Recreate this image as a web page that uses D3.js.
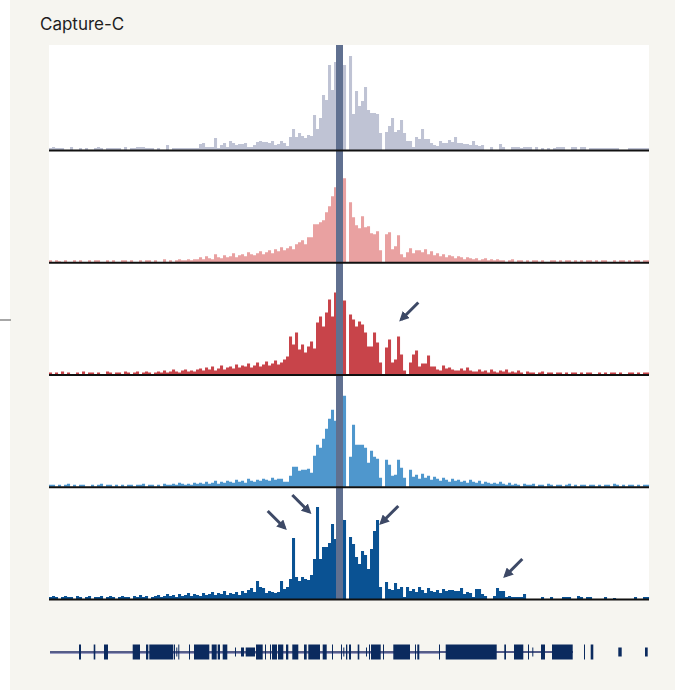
<!DOCTYPE html>
<html>
<head>
<meta charset="utf-8">
<script src="https://cdn.jsdelivr.net/npm/d3@7"></script>
<style>
  body { margin: 0; background: #fff; }
  svg { display: block; font-family: Inter, "Liberation Sans", Arial, sans-serif; }
</style>
</head>
<body>
<svg width="675" height="690"></svg>
<script>
// bins of 3 kb across a 600 kb window
const binSize = 3;

const trackGray = [
  2,3,2,2,2,0,0,3,0,0, 2,0,2,0,0,2,3,2,0,2, 2,2,2,2,0,3,0,2,2,3, 3,3,2,2,2,0,2,0,0,5,
  0,2,2,2,2,2,2,2,2,2, 6,7,3,3,3,12,2,5,7,3, 9,7,5,6,6,7,3,3,5,8, 9,8,8,7,9,5,6,9,7,4,
  13,21,13,17,14,12,15,14,35,21, 32,55,50,85,60,88,80,75,85,0, 94,36,59,44,49,63,40,37,37,36,
  17,0,18,24,32,18,20,30,17,9, 9,3,13,11,21,11,11,7,5,4, 9,7,7,10,8,13,7,7,6,6,
  5,9,5,4,5,0,0,3,0,0, 6,3,0,0,3,3,3,2,3,3, 3,0,3,0,2,0,2,0,2,3, 3,3,0,0,3,3,0,3,3,0,
  2,2,2,2,2,2,2,2,2,2, 0,0,0,2,2,2,2,2,2,2
];

const trackPink = [
  2,0,2,1,0,2,0,0,2,0, 2,0,0,2,0,2,2,0,0,2, 0,2,0,0,2,2,0,2,0,0, 2,0,2,2,0,2,0,0,3,0,
  2,0,2,3,2,2,3,2,3,3, 5,3,6,4,3,8,5,4,7,5, 6,9,5,7,8,6,10,8,7,9, 11,8,10,12,9,13,11,15,12,14,
  16,13,18,20,22,18,25,25,38,38, 40,42,50,56,66,75,70,60,84,0, 60,45,37,34,46,35,36,29,28,31,
  12,0,28,30,13,16,27,8,5,10, 14,9,12,12,10,13,8,11,7,9, 6,8,5,7,6,4,6,5,3,5,
  4,3,4,2,3,4,2,3,2,3, 2,2,0,2,3,0,2,2,0,2, 0,2,2,0,2,0,0,2,2,0, 2,0,2,2,0,2,0,2,0,2,
  2,0,2,0,2,2,0,0,2,0, 2,2,0,2,0,2,2,0,2,2
];

const trackRed = [
  2,0,2,0,3,0,2,0,0,2, 0,3,0,2,2,0,2,0,0,3, 2,0,2,2,0,3,2,0,2,3, 0,2,3,2,0,2,3,2,4,2,
  3,5,3,2,4,5,3,4,3,5, 6,4,7,5,8,4,6,9,5,7, 8,6,10,7,9,8,11,7,9,12, 8,10,13,9,11,14,10,12,15,18,
  38,30,42,25,30,22,28,33,26,52, 58,48,62,75,58,82,80,70,74,0, 60,55,48,53,50,42,28,28,42,32,
  12,0,27,35,12,15,38,20,4,0, 12,20,24,8,11,11,19,8,8,5, 4,9,6,7,5,4,4,6,4,7,
  4,3,3,5,3,4,2,5,3,2, 4,3,5,2,3,2,4,2,0,3, 2,2,0,2,3,0,2,2,0,2, 2,0,2,0,2,2,0,2,0,2,
  2,0,0,2,0,2,0,2,2,0, 2,0,0,2,2,0,2,0,2,2
];

const trackBlue = [
  2,2,0,2,0,2,3,0,2,0, 2,2,0,0,2,0,2,3,0,2, 2,0,2,0,2,0,2,2,0,2, 2,3,0,2,2,0,2,0,3,2,
  2,3,2,4,3,2,3,2,4,3, 4,3,5,3,4,6,3,5,4,6, 5,4,7,5,6,4,8,6,5,7, 6,8,7,6,9,7,8,8,5,5,
  11,20,20,16,17,17,18,14,31,42, 39,48,58,68,77,66,85,90,91,0, 30,62,42,42,42,39,24,36,30,28,
  9,0,27,22,11,12,27,19,9,0, 17,10,12,8,13,9,11,7,10,8, 6,9,7,5,8,6,7,5,6,4,
  7,5,4,6,3,5,4,3,4,3, 5,3,2,4,2,3,2,0,3,2, 2,3,0,2,2,0,3,2,0,2, 2,0,2,3,0,2,0,2,2,0,
  2,2,0,2,0,2,2,0,3,2, 0,2,0,2,2,0,2,0,2,2
];

const trackNavy = [
  2,3,2,0,2,3,2,2,0,3, 2,0,2,3,0,2,2,3,0,2, 3,2,0,2,3,2,2,0,3,2, 4,2,3,0,2,3,4,2,3,5,
  3,4,2,5,3,4,6,3,5,4, 3,6,4,5,7,4,6,5,8,4, 6,5,7,4,8,6,9,11,7,18, 12,11,6,8,7,6,7,18,10,12,
  20,61,22,18,22,20,19,24,40,92, 40,52,52,56,75,60,70,80,79,0, 62,55,42,35,48,44,30,50,68,79,
  12,0,17,10,9,16,10,12,2,12, 8,10,7,12,9,6,11,8,7,9, 6,10,8,9,9,8,8,11,5,7,
  6,2,10,10,5,3,0,0,3,11, 8,8,2,3,2,2,2,2,5,0, 0,0,0,0,2,0,0,2,0,0, 0,2,2,2,0,0,3,2,0,2,
  2,0,0,0,0,2,0,0,1,0, 0,0,0,0,0,2,0,0,2,2
];

const trackValues = [trackGray, trackPink, trackRed, trackBlue, trackNavy];
const trackColors = ["#bfc3d4", "#e9a1a1", "#c8444a", "#4f97cd", "#0a5293"];

const viewpoint = [287, 294];

const arrows = [
  { track: 2, pos: 349.3, value: 52, dir: 1 },
  { track: 4, pos: 238.7, value: 68, dir: -1 },
  { track: 4, pos: 263.3, value: 84, dir: -1 },
  { track: 4, pos: 329.3, value: 73, dir: 1 },
  { track: 4, pos: 453.3, value: 20, dir: 1 },
];

// gene models: [start, end, short?]
const transcript = [1, 524];
const transcriptAlt = [1, 391];
const exons = [
  [30, 32], [44.7, 46.3], [55, 59], [83.7, 91], [97, 99.3], [100.3, 124.3], [125, 126],
  [127.3, 128.3, 1], [129.3, 130.3], [140, 141], [145, 160.3], [162.7, 167.7], [168.7, 171],
  [173.7, 178.3], [186, 187, 1], [192, 195, 1], [196.7, 206, 1], [207, 213.7], [216, 217],
  [221, 222], [223, 228], [229, 234.3], [237, 239.3], [243.3, 249.3], [255, 257.7],
  [259.3, 271], [273.7, 277.7], [283, 284], [292, 293], [294.3, 295.3, 1], [297, 298.3],
  [300, 302], [308.7, 310.3], [317, 318, 1], [320, 321], [322, 331.7], [334, 335],
  [344.3, 361], [366, 367], [368.3, 370.3], [390, 391], [396.7, 447.7], [455.3, 457],
  [465, 474.3], [479, 480], [483.3, 484.3, 1], [492, 496], [503, 523.7], [535, 536],
  [541.7, 544.3], [569.3, 572.7, 1], [596, 598.7, 1],
];

const svg = d3.select("svg");
const w = 675;
const h = 690;

const x = d3.scaleLinear().domain([0, 600]).range([49, 649]);
const baseline = d3.scaleLinear().domain([0, 4]).range([150, 599]);
const yFor = (i) =>
  d3.scaleLinear().domain([0, 100]).range([baseline(i), baseline(i) - 100]);

svg.append("rect").attr("width", w).attr("height", h).attr("fill", "#fff");
svg.append("rect").attr("x", 10).attr("width", w - 10).attr("height", h).attr("fill", "#f6f5f0");
svg.append("line")
  .attr("x1", 0).attr("x2", 11).attr("y1", 320).attr("y2", 320)
  .attr("stroke", "#8a8a8a").attr("stroke-width", 1.5);

svg.append("text")
  .attr("x", 40).attr("y", 30)
  .attr("font-size", 17)
  .attr("fill", "#1e1e1e")
  .text("Capture-C");

svg.append("rect")
  .attr("x", x(0)).attr("y", 45)
  .attr("width", x(600) - x(0)).attr("height", baseline(4) - 45 + 1)
  .attr("fill", "#fff");

trackValues.forEach((values, i) => {
  const y = yFor(i);
  svg.append("g")
    .selectAll("rect")
    .data(values)
    .join("rect")
    .attr("x", (d, j) => x(j * binSize))
    .attr("width", x(binSize) - x(0) + 0.05)
    .attr("y", (d) => y(d))
    .attr("height", (d) => y(0) - y(d))
    .attr("fill", trackColors[i]);
});

svg.append("rect")
  .attr("x", x(viewpoint[0])).attr("y", 45)
  .attr("width", x(viewpoint[1]) - x(viewpoint[0]))
  .attr("height", baseline(4) - 45 + 1)
  .attr("fill", "#607090");

svg.append("g")
  .selectAll("line")
  .data(d3.range(5))
  .join("line")
  .attr("x1", x(0)).attr("x2", x(600))
  .attr("y1", (d) => baseline(d) + 0.5).attr("y2", (d) => baseline(d) + 0.5)
  .attr("stroke", "#111").attr("stroke-width", 2.2);

svg.append("defs")
  .append("marker")
  .attr("id", "head")
  .attr("viewBox", "0 0 10 10")
  .attr("refX", 7).attr("refY", 5)
  .attr("markerUnits", "userSpaceOnUse")
  .attr("markerWidth", 10).attr("markerHeight", 10)
  .attr("orient", "auto")
  .append("path")
  .attr("d", "M0,0 L10,5 L0,10 z")
  .attr("fill", "#3d4966");

svg.append("g")
  .selectAll("line")
  .data(arrows)
  .join("line")
  .attr("x1", (d) => x(d.pos) + d.dir * 20)
  .attr("y1", (d) => yFor(d.track)(d.value) - 20)
  .attr("x2", (d) => x(d.pos) + d.dir * 3)
  .attr("y2", (d) => yFor(d.track)(d.value) - 3)
  .attr("stroke", "#3d4966")
  .attr("stroke-width", 3)
  .attr("marker-end", "url(#head)");

// gene track
const geneY = 652;
svg.append("line")
  .attr("x1", x(transcriptAlt[0])).attr("x2", x(transcriptAlt[1]))
  .attr("y1", geneY + 1.5).attr("y2", geneY + 1.5)
  .attr("stroke", "#9c9ec4").attr("stroke-width", 1);
svg.append("line")
  .attr("x1", x(transcript[0])).attr("x2", x(transcript[1]))
  .attr("y1", geneY).attr("y2", geneY)
  .attr("stroke", "#1f2866").attr("stroke-width", 1.5);

svg.append("g")
  .selectAll("rect")
  .data(exons)
  .join("rect")
  .attr("x", (d) => x(d[0]))
  .attr("width", (d) => Math.max(1, x(d[1]) - x(d[0])))
  .attr("y", (d) => (d[2] ? geneY - 4.5 : geneY - 7.5))
  .attr("height", (d) => (d[2] ? 9 : 15))
  .attr("fill", "#0b2a5e");
</script>
</body>
</html>
